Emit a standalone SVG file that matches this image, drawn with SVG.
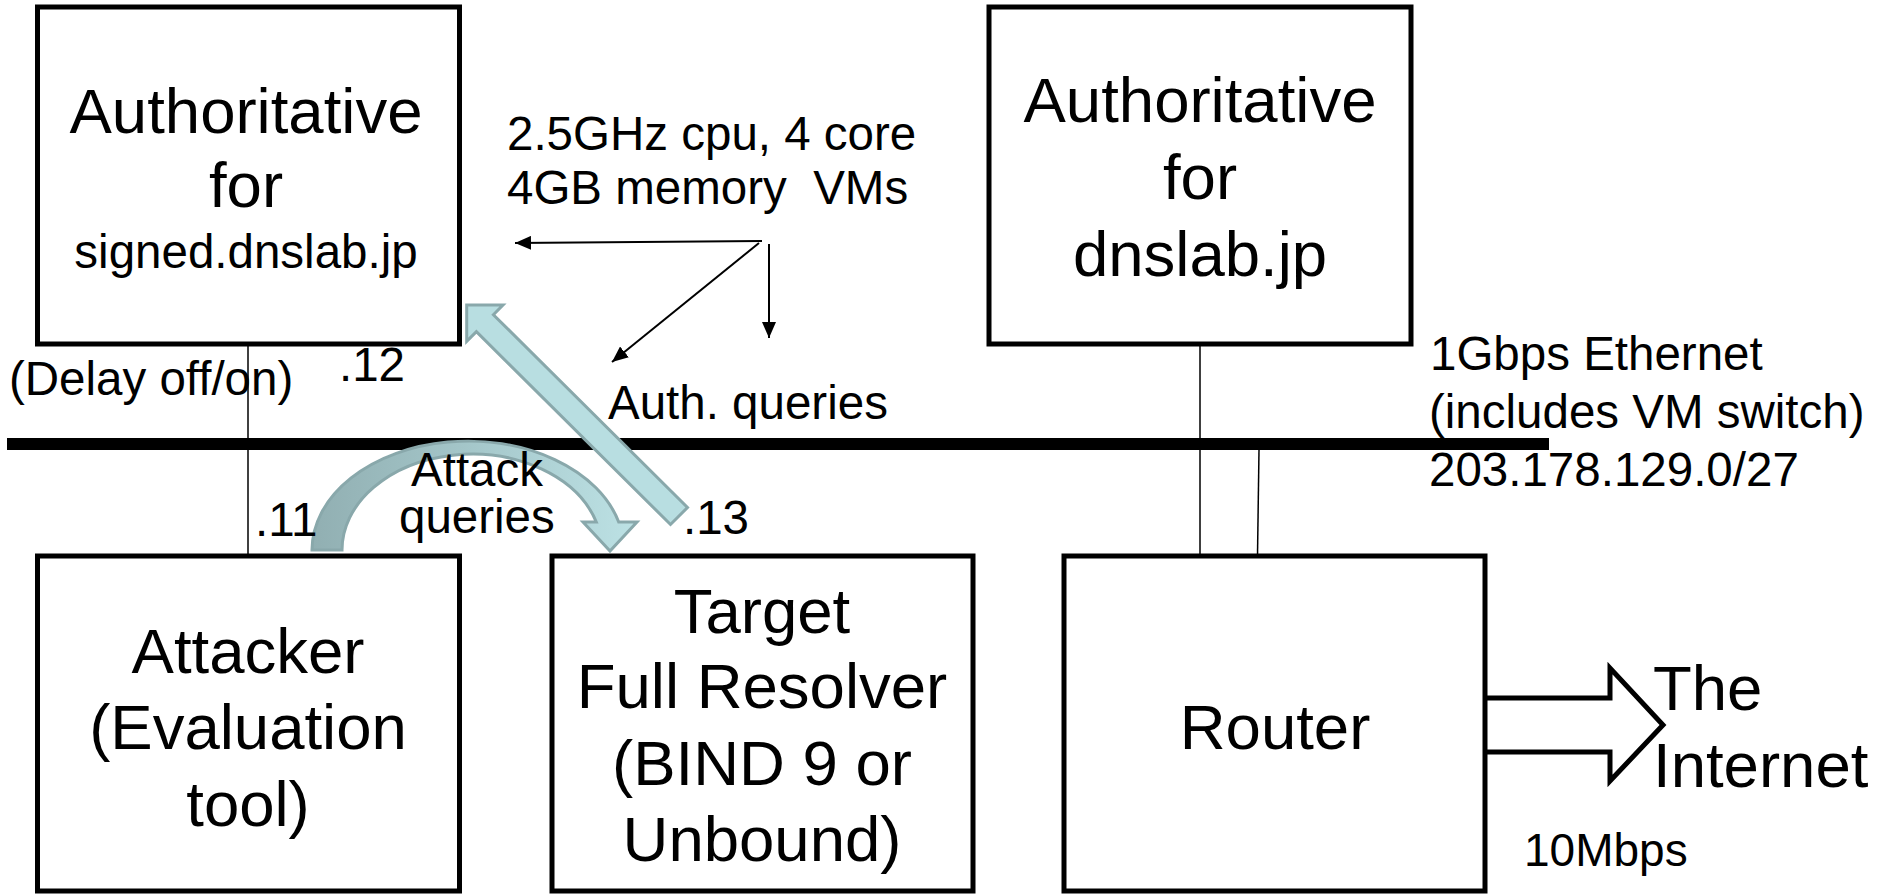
<svg xmlns="http://www.w3.org/2000/svg" width="1879" height="896" viewBox="0 0 1879 896">
<style>
text{font-family:"Liberation Sans",Arial,sans-serif;fill:#000}
.big{font-size:63.5px;text-anchor:middle}
.sm{font-size:47.5px}
.box{fill:#fff;stroke:#000;stroke-width:5}
.wire{stroke:#000;stroke-width:1.5;fill:none}
.thin{stroke:#000;stroke-width:2;fill:none;marker-end:url(#ah)}
</style>
<defs>
<marker id="ah" markerUnits="userSpaceOnUse" markerWidth="16" markerHeight="14" refX="16" refY="7" orient="auto">
<path d="M0,0 L16,7 L0,14 z" fill="#000"/>
</marker>
<linearGradient id="atk" gradientUnits="userSpaceOnUse" x1="312" y1="0" x2="640" y2="0">
<stop offset="0" stop-color="#91afb2"/>
<stop offset="0.45" stop-color="#a3c5c8"/>
<stop offset="1" stop-color="#bde2e5"/>
</linearGradient>
</defs>

<g id="connectors">
<line class="wire" x1="248" y1="345" x2="248" y2="556"/>
<line class="wire" x1="1200" y1="345" x2="1200" y2="556"/>
<line class="wire" x1="1259" y1="450" x2="1257.5" y2="556"/>
<rect id="bus" x="7" y="438" width="1542" height="12" fill="#000"/>
<line class="thin" x1="762" y1="241" x2="515" y2="243"/>
<line class="thin" x1="769" y1="244" x2="769" y2="338"/>
<line class="thin" x1="759" y1="243" x2="612" y2="362"/>
<polygon id="auth-arrow" points="466.7,305 503,305 493.4,314.7 687.5,507.5 670.5,524.5 476.4,331.7 466.7,341.4" fill="#b8dee1" stroke="#89a8ab" stroke-width="3" stroke-linejoin="miter"/>
<path id="attack-arrow" d="M312,550 A156,109 0 0 1 618.7,522 L637,522 L610,551 L583,522 L596.3,522 A130,96 0 0 0 342,550 Z" fill="url(#atk)" stroke="#89a8ab" stroke-width="3"/>
<path id="internet-arrow" d="M1487,698 H1610 V668 L1663,725 L1610,781 V752 H1487" fill="#fff" stroke="#000" stroke-width="5" stroke-linejoin="miter"/>
</g>

<g id="auth-signed">
<rect class="box" x="37.5" y="7" width="422" height="337"/>
<text class="big" x="246" y="133">Authoritative</text>
<text class="big" x="246" y="207">for</text>
<text class="sm" x="246" y="268" text-anchor="middle">signed.dnslab.jp</text>
</g>

<g id="auth-dnslab">
<rect class="box" x="989" y="7" width="422" height="337"/>
<text class="big" x="1200" y="122">Authoritative</text>
<text class="big" x="1200" y="199">for</text>
<text class="big" x="1200" y="276">dnslab.jp</text>
</g>

<g id="attacker">
<rect class="box" x="37.5" y="556" width="422" height="335"/>
<text class="big" x="248" y="673">Attacker</text>
<text class="big" x="248" y="749">(Evaluation</text>
<text class="big" x="248" y="826">tool)</text>
</g>

<g id="target">
<rect class="box" x="552" y="556" width="421" height="335"/>
<text class="big" x="762" y="633">Target</text>
<text class="big" x="762" y="708">Full Resolver</text>
<text class="big" x="762" y="785">(BIND 9 or</text>
<text class="big" x="762" y="861">Unbound)</text>
</g>

<g id="router">
<rect class="box" x="1064" y="556" width="421" height="335"/>
<text class="big" x="1275" y="749">Router</text>
</g>

<g id="labels">
<text class="sm" x="507" y="150">2.5GHz cpu, 4 core</text>
<text class="sm" x="507" y="204" xml:space="preserve">4GB memory  VMs</text>
<text class="sm" x="9" y="395">(Delay off/on)</text>
<text class="sm" x="339" y="381">.12</text>
<text class="sm" x="608" y="419">Auth. queries</text>
<text class="sm" x="411" y="486">Attack</text>
<text class="sm" x="399" y="533">queries</text>
<text class="sm" x="255" y="536">.11</text>
<text class="sm" x="683" y="534">.13</text>
<text class="sm" x="1430" y="370">1Gbps Ethernet</text>
<text class="sm" x="1429" y="428">(includes VM switch)</text>
<text class="sm" x="1429" y="486">203.178.129.0/27</text>
<text x="1653" y="710" style="font-size:63.5px">The</text>
<text x="1653" y="787" style="font-size:63.5px">Internet</text>
<text x="1524" y="866" style="font-size:46px">10Mbps</text>
</g>
</svg>
